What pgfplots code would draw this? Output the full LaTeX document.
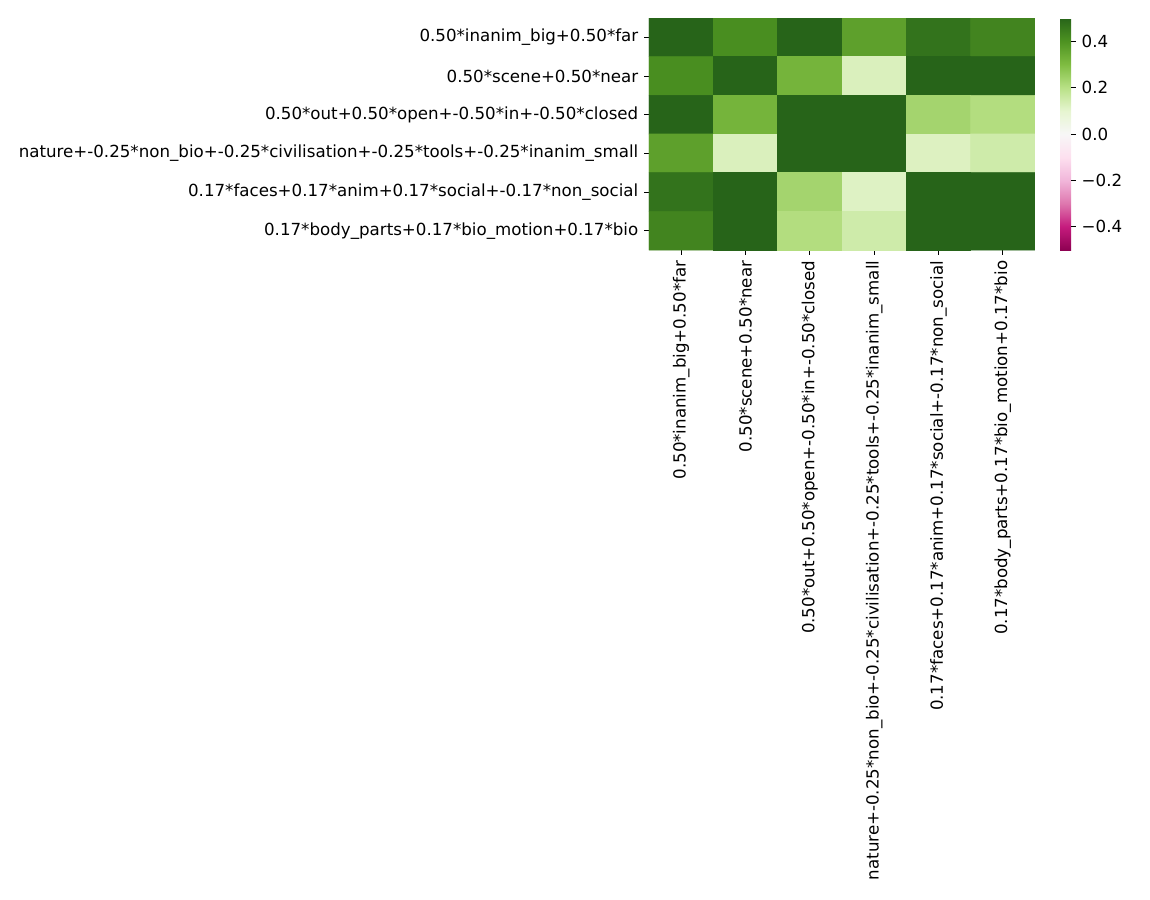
\documentclass[border=0pt]{standalone}
\usepackage{pgfplots}
\pgfplotsset{compat=1.18}
\usepackage{fontspec}
\setmainfont{DejaVu Sans}
\definecolor{piygdark}{RGB}{39,100,25}
\pgfplotstableread{
x y v
0 0 0.50
1 0 0.41
2 0 0.50
3 0 0.366
4 0 0.468
5 0 0.43
0 1 0.41
1 1 0.50
2 1 0.32
3 1 0.126
4 1 0.50
5 1 0.50
0 2 0.50
1 2 0.32
2 2 0.50
3 2 0.50
4 2 0.235
5 2 0.21
0 3 0.366
1 3 0.126
2 3 0.50
3 3 0.50
4 3 0.12
5 3 0.152
0 4 0.468
1 4 0.50
2 4 0.235
3 4 0.117
4 4 0.50
5 4 0.50
0 5 0.43
1 5 0.50
2 5 0.21
3 5 0.152
4 5 0.50
5 5 0.50
}\heat
\begin{document}
\fontsize{12}{14}\selectfont
\begin{tikzpicture}
\path[use as bounding box] (0,0) rectangle (828pt,-648pt);
\begin{axis}[
  at={(467.28pt,-12.96pt)}, anchor=north west,
  scale only axis, width=277.92pt, height=167.04pt,
  xmin=-0.5, xmax=5.5, ymin=-0.5, ymax=5.5, y dir=reverse,
  axis background/.style={fill=piygdark},
  axis line style={draw=none},
  tick align=outside, major tick length=3.5pt,
  tick style={black, line width=0.6pt},
  xtick={0,...,5}, ytick={0,...,5},
  xtick pos=bottom, ytick pos=left,
  tick label style={font=\fontsize{12}{14}\selectfont},
  yticklabels={0.50*inanim\_big+0.50*far, 0.50*scene+0.50*near, 0.50*out+0.50*open+-0.50*in+-0.50*closed, nature+-0.25*non\_bio+-0.25*civilisation+-0.25*tools+-0.25*inanim\_small, 0.17*faces+0.17*anim+0.17*social+-0.17*non\_social, 0.17*body\_parts+0.17*bio\_motion+0.17*bio},
  xticklabels={0.50*inanim\_big+0.50*far, 0.50*scene+0.50*near, 0.50*out+0.50*open+-0.50*in+-0.50*closed, nature+-0.25*non\_bio+-0.25*civilisation+-0.25*tools+-0.25*inanim\_small, 0.17*faces+0.17*anim+0.17*social+-0.17*non\_social, 0.17*body\_parts+0.17*bio\_motion+0.17*bio},
  xticklabel style={rotate=90, anchor=east},
  colormap={piyg}{rgb255=(142,1,82) rgb255=(197,27,125) rgb255=(222,119,174) rgb255=(241,182,218) rgb255=(253,224,239) rgb255=(247,247,247) rgb255=(230,245,208) rgb255=(184,225,134) rgb255=(127,188,65) rgb255=(77,146,33) rgb255=(39,100,25)},
  point meta min=-0.5, point meta max=0.5,
  colorbar right,
  colorbar style={
    at={(parent axis.north east)}, anchor=north west, xshift=9.5pt,
    width=7.92pt, height=167.04pt, scale only axis,
    axis background/.style={},
    axis line style={draw=none},
    ytick={-0.4,-0.2,0,0.2,0.4},
    yticklabels={−0.4,−0.2,0.0,0.2,0.4},
    tick align=outside, major tick length=3.5pt,
    tick style={black, line width=0.6pt},
    yticklabel pos=right, ytick pos=right,
    tick label style={font=\fontsize{12}{14}\selectfont},
  },
]
\addplot[matrix plot*, mesh/cols=6, point meta=explicit] table[x=x, y=y, meta=v] {\heat};
\end{axis}
\end{tikzpicture}
\end{document}
